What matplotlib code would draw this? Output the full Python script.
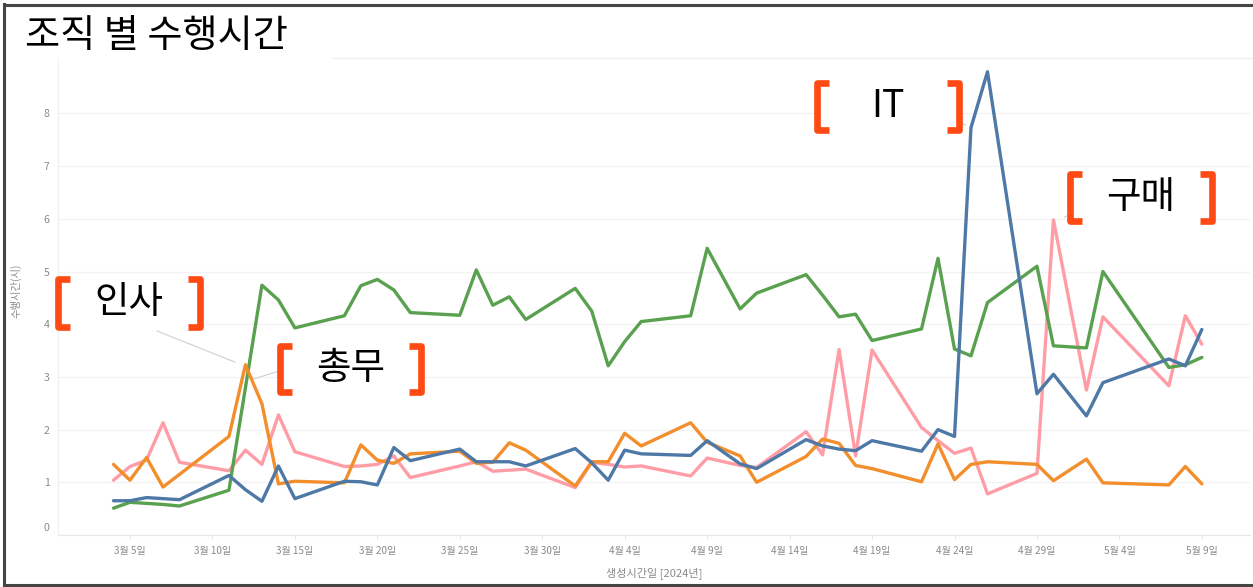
import datetime as dt
import numpy as np
import matplotlib
matplotlib.use("Agg")
import matplotlib.pyplot as plt
import matplotlib.dates as mdates
import matplotlib.transforms as mtransforms
from matplotlib.lines import Line2D
from matplotlib.patches import Rectangle

plt.rcParams['font.family'] = ['Noto Sans CJK KR', 'DejaVu Sans']

# ---------------- data ----------------
dates = ["2024-03-04", "2024-03-05", "2024-03-06", "2024-03-07", "2024-03-08",
         "2024-03-11", "2024-03-12", "2024-03-13", "2024-03-14", "2024-03-15",
         "2024-03-18", "2024-03-19", "2024-03-20", "2024-03-21", "2024-03-22",
         "2024-03-25", "2024-03-26", "2024-03-27", "2024-03-28", "2024-03-29",
         "2024-04-01", "2024-04-02", "2024-04-03", "2024-04-04", "2024-04-05",
         "2024-04-08", "2024-04-09", "2024-04-11", "2024-04-12",
         "2024-04-15", "2024-04-16", "2024-04-17", "2024-04-18", "2024-04-19",
         "2024-04-22", "2024-04-23", "2024-04-24", "2024-04-25", "2024-04-26",
         "2024-04-29", "2024-04-30", "2024-05-02", "2024-05-03",
         "2024-05-07", "2024-05-08", "2024-05-09"]

green_insa = [0.51, 0.62, 0.60, 0.58, 0.55,
              0.85, None, 4.74, 4.46, 3.93,
              4.16, 4.73, 4.85, 4.65, 4.22,
              4.17, 5.03, 4.36, 4.52, 4.09,
              4.68, 4.25, 3.21, 3.67, 4.05,
              4.16, 5.44, 4.29, 4.59,
              4.94, 4.55, 4.14, 4.19, 3.69,
              3.91, 5.25, 3.53, 3.40, 4.41,
              5.10, 3.59, 3.55, 5.00,
              3.18, 3.23, 3.37]

orange_chongmu = [1.34, 1.04, 1.47, 0.91, None,
                  1.87, 3.23, 2.49, 0.97, 1.02,
                  0.99, 1.71, 1.42, 1.36, 1.54,
                  1.59, 1.36, 1.38, 1.75, 1.61,
                  0.93, 1.39, 1.39, 1.93, 1.69,
                  2.13, 1.76, 1.50, 1.00,
                  1.49, 1.82, 1.74, 1.32, 1.26,
                  1.01, 1.73, 1.05, 1.34, 1.39,
                  1.34, 1.03, 1.44, 0.99,
                  0.95, 1.30, 0.97]

blue_it = [0.65, 0.65, 0.71, 0.69, 0.67,
           1.13, 0.86, 0.64, 1.31, 0.69,
           1.02, 1.01, 0.95, 1.66, 1.41,
           1.63, 1.39, 1.39, 1.39, 1.31,
           1.64, 1.37, 1.04, 1.61, 1.54,
           1.51, 1.79, 1.35, 1.26,
           1.81, 1.69, 1.63, 1.60, 1.79,
           1.59, 2.00, 1.87, 7.73, 8.79,
           2.68, 3.05, 2.26, 2.89,
           3.34, 3.21, 3.90]

pink_gumae = [1.04, 1.30, 1.42, 2.13, 1.38,
              1.22, 1.61, 1.34, 2.28, 1.58,
              1.30, 1.31, 1.34, 1.50, 1.09,
              1.31, 1.39, 1.21, 1.23, 1.25,
              0.90, 1.38, 1.34, 1.29, 1.31,
              1.12, 1.46, 1.32, 1.28,
              1.96, 1.52, 3.52, 1.50, 3.51,
              2.04, 1.79, 1.55, 1.65, 0.78,
              1.17, 5.98, 2.75, 4.14,
              2.83, 4.16, 3.62]

series = [("구매", pink_gumae, "#FF9DA7"),
          ("인사", green_insa, "#59A14F"),
          ("총무", orange_chongmu, "#F28E2B"),
          ("IT", blue_it, "#4E79A7")]

tick_dates = ["2024-03-05", "2024-03-10", "2024-03-15", "2024-03-20", "2024-03-25",
              "2024-03-30", "2024-04-04", "2024-04-09", "2024-04-14", "2024-04-19",
              "2024-04-24", "2024-04-29", "2024-05-04", "2024-05-09"]
y_ticks = [0, 1, 2, 3, 4, 5, 6, 7, 8]

title = "조직 별 수행시간"
x_label = "생성시간일 [2024년]"
y_label = "수행시간(시)"

# annotations: label, anchor (date, value), bracket box in pixels (x0, x1, y0, y1), line start px
annotations = [("인사", ("2024-03-11 09:00", 3.28), (55, 203, 276, 330), (157, 331)),
               ("총무", ("2024-03-12 12:00", 2.96), (277, 424, 343, 395), (292, 367)),
               ("IT", ("2024-04-24 16:00", 7.78), (814, 962, 80, 133), (948, 117)),
               ("구매", ("2024-04-30 16:00", 6.03), (1067, 1215, 171, 224), (1082, 208))]

# ---------------- figure ----------------
W, H = 1253, 587
fig = plt.figure(figsize=(W / 100, H / 100), dpi=100)
fig.patch.set_facecolor("white")

def fx(px):
    return px / W

def fy(py):
    return 1 - py / H

ax_l, ax_r, ax_t, ax_b = 58, 1250, 58, 535
ax = fig.add_axes([fx(ax_l), fy(ax_b), fx(ax_r - ax_l), (ax_b - ax_t) / H])

d_num = mdates.date2num([dt.datetime.fromisoformat(d) for d in dates])
ref = mdates.date2num(dt.datetime(2024, 3, 5))
ppd = 16.49
ax.set_xlim(ref - (130 - ax_l) / ppd, ref + (ax_r - 130) / ppd)
ppv = 52.7
ax.set_ylim(0, (ax_b - ax_t) / ppv)

for name, vals, col in series:
    v = np.array([np.nan if x is None else x for x in vals], dtype=float)
    m = ~np.isnan(v)
    ax.plot(d_num[m], v[m], color=col, lw=2.4, solid_joinstyle="round",
            solid_capstyle="round", zorder=3)

# axes styling
for s in ["top", "right"]:
    ax.spines[s].set_visible(False)
ax.spines["left"].set_color("#f0f0f0")
ax.spines["bottom"].set_color("#e8e8e8")
ax.set_yticks(y_ticks)
ax.set_yticklabels([str(t) for t in y_ticks])
ax.grid(axis="y", color="#f2f2f2", lw=0.9, zorder=0)
ax.tick_params(axis="y", length=0, pad=6, labelsize=7.6, labelcolor="#8a8a8a")
# the zero label sits slightly above the baseline, as in the reference
zero_lbl = ax.get_yticklabels()[0]
zero_lbl.set_transform(zero_lbl.get_transform() +
                       mtransforms.ScaledTranslation(0, 8 / 100, fig.dpi_scale_trans))
tnums = mdates.date2num([dt.datetime.fromisoformat(d) for d in tick_dates])
ax.set_xticks(tnums)
ax.set_xticklabels([f"{dt.date.fromisoformat(d).month}월 {dt.date.fromisoformat(d).day}일"
                    for d in tick_dates])
ax.tick_params(axis="x", length=3, width=0.6, color="#e0e0e0", pad=5,
               labelsize=7.2, labelcolor="#8a8a8a")
ax.set_xlabel(x_label, fontsize=8, color="#8a8a8a", labelpad=8)
ax.set_ylabel(y_label, fontsize=7.4, color="#8a8a8a")
ax.yaxis.set_label_coords(-(58 - 22) / (ax_r - ax_l), (535 - 291) / (ax_b - ax_t))

# top faint line
fig.add_artist(Line2D([fx(333), fx(1253)], [fy(58), fy(58)], color="#efefef", lw=1.0))

# annotations
red = "#FF4A14"
for label, (adate, aval), (x0, x1, y0, y1), (lx, ly) in annotations:
    an = mdates.date2num(dt.datetime.fromisoformat(adate))
    disp = ax.transData.transform((an, aval))
    fig.add_artist(Line2D([fx(lx), disp[0] / W], [fy(ly), disp[1] / H],
                          color="#cfcfcf", lw=0.8, zorder=4))
    fig.add_artist(Rectangle((fx(x0 + 4), fy(y1 - 1)), fx(x1 - x0 - 8), (y1 - y0 - 2) / H,
                             facecolor="white", edgecolor="none", zorder=5))
    bw = 15
    lw_pt = 4.8
    off = 3
    fig.add_artist(Line2D([fx(x0 + bw), fx(x0 + off), fx(x0 + off), fx(x0 + bw)],
                          [fy(y0 + off), fy(y0 + off), fy(y1 - off), fy(y1 - off)],
                          color=red, lw=lw_pt, solid_joinstyle="round",
                          solid_capstyle="butt", zorder=6))
    fig.add_artist(Line2D([fx(x1 - bw), fx(x1 - off), fx(x1 - off), fx(x1 - bw)],
                          [fy(y0 + off), fy(y0 + off), fy(y1 - off), fy(y1 - off)],
                          color=red, lw=lw_pt, solid_joinstyle="round",
                          solid_capstyle="butt", zorder=6))
    fig.text(fx((x0 + x1) / 2), fy((y0 + y1) / 2), label, ha="center", va="center",
             fontsize=27, color="black", zorder=7)

# title
fig.text(fx(25), fy(37), title, ha="left", va="center", fontsize=27.5, color="black")

# outer frame
for xs, ys in [([4, 4], [4, 585]), ([4, 1253], [4.5, 4.5]), ([4, 1253], [584.5, 584.5])]:
    fig.add_artist(Line2D([fx(x) for x in xs], [fy(y) for y in ys], color="#454545", lw=2.2))

fig.savefig("out.png", dpi=100, facecolor="white")
